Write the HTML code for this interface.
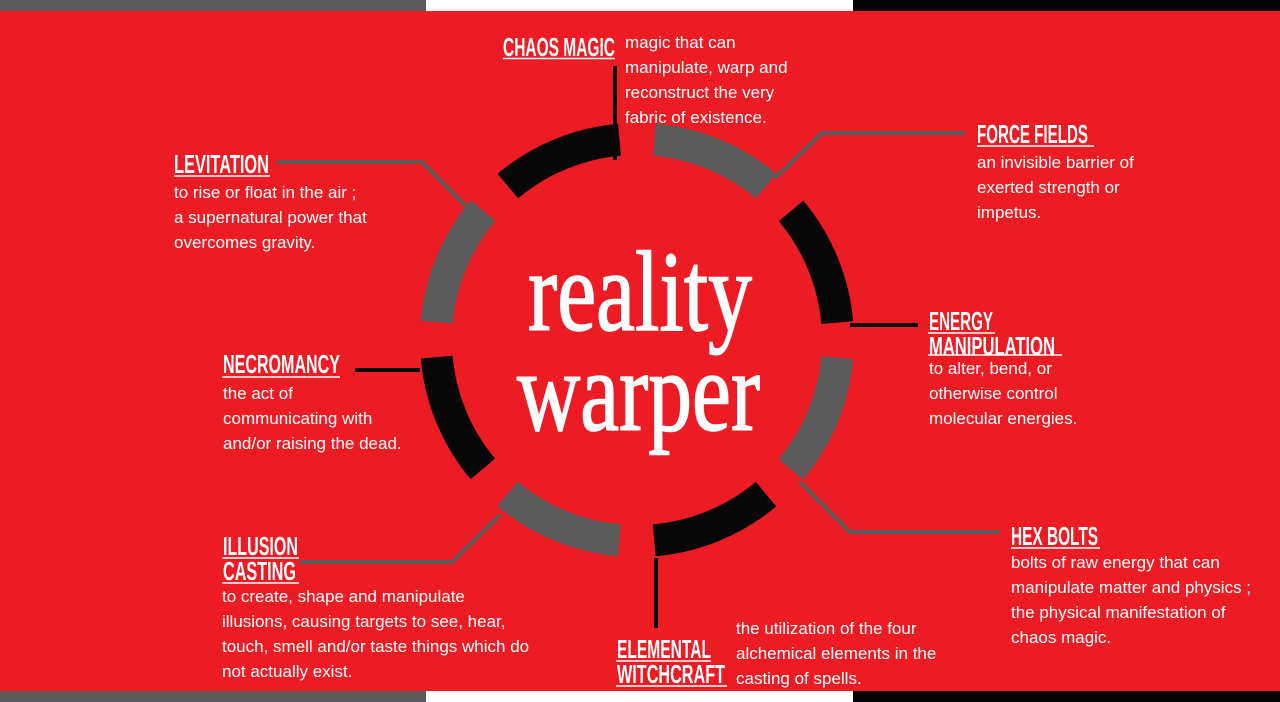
<!DOCTYPE html>
<html><head><meta charset="utf-8"><style>
html,body{margin:0;padding:0;width:1280px;height:702px;overflow:hidden;background:#ed1c24}
svg{display:block}
.h{font-family:"Liberation Sans Narrow","Liberation Sans",sans-serif;font-weight:bold;font-size:26px;fill:#fff}
.b{font-family:"Liberation Sans",sans-serif;font-size:17px;fill:#fff}
.t{font-family:"Liberation Serif",serif;font-size:114px;fill:#fff;stroke:#fff;stroke-width:1.6}
</style></head><body>
<svg width="1280" height="702" viewBox="0 0 1280 702" xmlns="http://www.w3.org/2000/svg">
<rect x="0" y="0" width="1280" height="702" fill="#ed1c24"/>
<rect x="0" y="0" width="426" height="11" fill="#5a5a5a"/>
<rect x="426" y="0" width="427" height="11" fill="#fff"/>
<rect x="853" y="0" width="427" height="11" fill="#050505"/>
<rect x="0" y="691" width="426" height="11" fill="#5a5a5a"/>
<rect x="426" y="691" width="427" height="11" fill="#fff"/>
<rect x="853" y="691" width="427" height="11" fill="#050505"/>

<circle cx="637" cy="340" r="201" fill="none" stroke="#070707" stroke-width="32" stroke-dasharray="122.78 192.94" transform="rotate(-130 637 340)"/>
<circle cx="637" cy="340" r="201" fill="none" stroke="#5a5a5a" stroke-width="32" stroke-dasharray="122.78 192.94" transform="rotate(-85 637 340)"/>

<g fill="none" stroke-linejoin="miter">
<path d="M277 162 H422 L470 210" stroke="#5a5a5a" stroke-width="4"/>
<path d="M965 133 H822 L775 178" stroke="#5a5a5a" stroke-width="4"/>
<path d="M800 482 L850 532 H1000" stroke="#5a5a5a" stroke-width="4"/>
<path d="M300 562 H452 L500 515" stroke="#5a5a5a" stroke-width="4"/>
<path d="M850 325 H918" stroke="#070707" stroke-width="4"/>
<path d="M355 370 H420" stroke="#070707" stroke-width="4"/>
<path d="M615 66 V160" stroke="#070707" stroke-width="4"/>
<path d="M656 558 V628" stroke="#070707" stroke-width="4"/>
</g>

<text class="t" x="528" y="330" textLength="224" lengthAdjust="spacingAndGlyphs">reality</text>
<text class="t" x="517" y="430" textLength="243" lengthAdjust="spacingAndGlyphs">warper</text>

<g class="h">
<text x="503" y="56" textLength="112" lengthAdjust="spacingAndGlyphs">CHAOS MAGIC</text>
<text x="174" y="173" textLength="95" lengthAdjust="spacingAndGlyphs">LEVITATION</text>
<text x="223" y="373" textLength="117" lengthAdjust="spacingAndGlyphs">NECROMANCY</text>
<text x="223" y="555" textLength="75" lengthAdjust="spacingAndGlyphs">ILLUSION</text>
<text x="223" y="580" textLength="73" lengthAdjust="spacingAndGlyphs">CASTING</text>
<text x="617" y="658" textLength="94" lengthAdjust="spacingAndGlyphs">ELEMENTAL</text>
<text x="617" y="683" textLength="108" lengthAdjust="spacingAndGlyphs">WITCHCRAFT</text>
<text x="977" y="143" textLength="111" lengthAdjust="spacingAndGlyphs">FORCE FIELDS</text>
<text x="929" y="330" textLength="64" lengthAdjust="spacingAndGlyphs">ENERGY</text>
<text x="929" y="355" textLength="126" lengthAdjust="spacingAndGlyphs">MANIPULATION</text>
<text x="1011" y="545" textLength="87" lengthAdjust="spacingAndGlyphs">HEX BOLTS</text>
</g>
<g stroke="#fff" stroke-width="1.5">
<line x1="503" y1="58.5" x2="615" y2="58.5"/>
<line x1="174" y1="176" x2="270" y2="176"/>
<line x1="222" y1="377" x2="340" y2="377"/>
<line x1="222" y1="558" x2="299" y2="558"/>
<line x1="222" y1="583" x2="299" y2="583"/>
<line x1="616" y1="661" x2="711" y2="661"/>
<line x1="616" y1="686" x2="727" y2="686"/>
<line x1="977" y1="146" x2="1094" y2="146"/>
<line x1="928" y1="333" x2="995" y2="333"/>
<line x1="928" y1="355" x2="1062" y2="355"/>
<line x1="1011" y1="548" x2="1100" y2="548"/>
</g>

<g class="b">
<text x="625" y="48">magic that can</text>
<text x="625" y="73">manipulate, warp and</text>
<text x="625" y="98">reconstruct the very</text>
<text x="625" y="123">fabric of existence.</text>

<text x="174" y="198">to rise or float in the air ;</text>
<text x="174" y="223">a supernatural power that</text>
<text x="174" y="248">overcomes gravity.</text>

<text x="223" y="399">the act of</text>
<text x="223" y="424">communicating with</text>
<text x="223" y="449">and/or raising the dead.</text>

<text x="222" y="602">to create, shape and manipulate</text>
<text x="222" y="627">illusions, causing targets to see, hear,</text>
<text x="222" y="652">touch, smell and/or taste things which do</text>
<text x="222" y="677">not actually exist.</text>

<text x="736" y="634">the utilization of the four</text>
<text x="736" y="659">alchemical elements in the</text>
<text x="736" y="684">casting of spells.</text>

<text x="977" y="168">an invisible barrier of</text>
<text x="977" y="193">exerted strength or</text>
<text x="977" y="218">impetus.</text>

<text x="929" y="374">to alter, bend, or</text>
<text x="929" y="399">otherwise control</text>
<text x="929" y="424">molecular energies.</text>

<text x="1011" y="568">bolts of raw energy that can</text>
<text x="1011" y="593">manipulate matter and physics ;</text>
<text x="1011" y="618">the physical manifestation of</text>
<text x="1011" y="643">chaos magic.</text>
</g>
</svg>
</body></html>
